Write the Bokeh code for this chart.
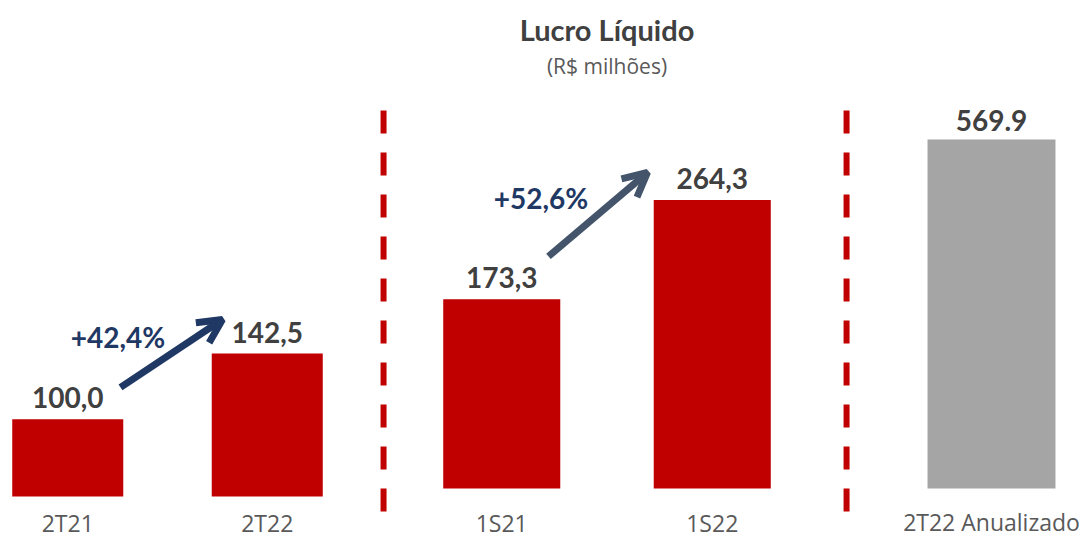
from bokeh.plotting import figure
from bokeh.models import (FactorRange, Range1d, ColumnDataSource, LabelSet, Label,
                          Arrow, OpenHead)
from bokeh.layouts import row
from bokeh.core.properties import value
from bokeh.embed import file_html
from bokeh.resources import INLINE

# ---------------- data ----------------
cats_tri = ["2T21", "2T22"]
vals_tri = [100.0, 142.5]
cats_sem = ["1S21", "1S22"]
vals_sem = [173.3, 264.3]
cats_ann = ["2T22 Anualizado"]
vals_ann = [569.9]
growth = ["+42,4%", "+52,6%"]
title_txt = "Lucro Líquido"
subtitle_txt = "(R$ milhões)"

# axis baselines
Y1_MIN = 50.0
Y_ZERO = 0.0

# ---------------- styles ----------------
RED = "#C00000"
GRAY = "#A5A5A5"
VAL_COLOR = "#404040"
CAT_COLOR = "#595959"
NAVY = "#1F3864"
SLATE = "#44546A"
H = 539
LBL_OFF = 11


def br(v):
    return f"{v:.1f}".replace(".", ",")


def mk(xr, yr, w, mbl=0, mbr=0):
    p = figure(x_range=xr, y_range=yr, width=w, height=H, output_backend="svg",
               toolbar_location=None, x_axis_location=None, y_axis_location=None,
               min_border_left=mbl, min_border_right=mbr, min_border_top=8,
               min_border_bottom=0)
    p.grid.visible = False
    p.outline_line_color = None
    p.background_fill_color = "white"
    p.border_fill_color = "white"
    return p


def value_labels(src, off):
    return LabelSet(x="x", y="top", text="lbl", source=src, y_offset=off,
                    text_align="center", text_baseline="alphabetic",
                    text_font=value("Lato"), text_font_style="bold",
                    text_font_size="28px", text_color=VAL_COLOR)


def cat_labels(src, off):
    return LabelSet(x="x", y="base", text="x", source=src, y_offset=off,
                    text_align="center", text_baseline="alphabetic",
                    text_font=value("Open Sans"), text_font_size="23px",
                    text_color=CAT_COLOR)


# ---------------- figure 1: quarters ----------------
p1 = mk(FactorRange(factors=cats_tri, factor_padding=1.0, range_padding=0.094,
                    range_padding_units="absolute"),
        Range1d(22.17, 365.9), 326, mbl=8)
s1 = ColumnDataSource(dict(x=cats_tri, top=vals_tri, lbl=[br(v) for v in vals_tri],
                           base=[Y1_MIN] * len(cats_tri)))
p1.vbar(x="x", top="top", bottom=Y1_MIN, width=1.113, source=s1,
        fill_color=RED, line_color=None)
p1.add_layout(value_labels(s1, 11))
p1.add_layout(cat_labels(s1, -35))
p1.add_layout(Arrow(end=OpenHead(line_color=NAVY, line_width=7, size=24),
                    x_start=1.029, y_start=120.6, x_end=2.051, y_end=164.6,
                    line_color=NAVY, line_width=7))
p1.add_layout(Label(x=1.004, y=146.4, y_offset=LBL_OFF, text=growth[0], text_align="center",
                    text_baseline="alphabetic", text_font="Lato",
                    text_font_style="bold", text_font_size="28px", text_color=NAVY))

# ---------------- figure 2: semesters ----------------
p2 = mk(FactorRange(factors=cats_sem, factor_padding=1.0, range_padding=1.165,
                    range_padding_units="absolute"),
        Range1d(-46.70, 439.56), 574, mbr=13)
s2 = ColumnDataSource(dict(x=cats_sem, top=vals_sem, lbl=[br(v) for v in vals_sem],
                           base=[Y_ZERO] * len(cats_sem)))
p2.vbar(x="x", top="top", bottom=Y_ZERO, width=1.112, source=s2,
        fill_color=RED, line_color=None)
p2.add_layout(value_labels(s2, 11))
p2.add_layout(cat_labels(s2, -43))
p2.segment(x0=[-0.623, 3.776], y0=[346.2, 346.2], x1=[-0.623, 3.776], y1=[-22.0, -22.0],
           line_color=RED, line_width=6, line_dash="23 19")
p2.add_layout(Arrow(end=OpenHead(line_color=SLATE, line_width=7, size=24),
                    x_start=0.944, y_start=212.5, x_end=1.885, y_end=289.4,
                    line_color=SLATE, line_width=7))
p2.add_layout(Label(x=0.873, y=256.4, y_offset=LBL_OFF, text=growth[1], text_align="center",
                    text_baseline="alphabetic", text_font="Lato",
                    text_font_style="bold", text_font_size="28px", text_color=NAVY))
p2.add_layout(Label(x=1.5, y=410.3, y_offset=LBL_OFF, text=title_txt, text_align="center",
                    text_baseline="alphabetic", text_font="Lato",
                    text_font_style="bold", text_font_size="29px", text_color=VAL_COLOR))
p2.add_layout(Label(x=1.5, y=376.4, y_offset=LBL_OFF, text=subtitle_txt, text_align="center",
                    text_baseline="alphabetic", text_font="Open Sans",
                    text_font_size="21px", text_color=CAT_COLOR))

# ---------------- figure 3: annualized ----------------
p3 = mk(FactorRange(factors=cats_ann, range_padding=0.0),
        Range1d(-83.28, 783.8), 182)
s3 = ColumnDataSource(dict(x=cats_ann, top=vals_ann, lbl=[f"{v:.1f}" for v in vals_ann],
                           base=[Y_ZERO] * len(cats_ann)))
p3.vbar(x="x", top="top", bottom=Y_ZERO, width=0.703, source=s3,
        fill_color=GRAY, line_color=None)
p3.add_layout(value_labels(s3, 8))
p3.add_layout(cat_labels(s3, -43))

layout = row(p1, p2, p3)
open("out.html", "w").write(file_html(layout, INLINE))
